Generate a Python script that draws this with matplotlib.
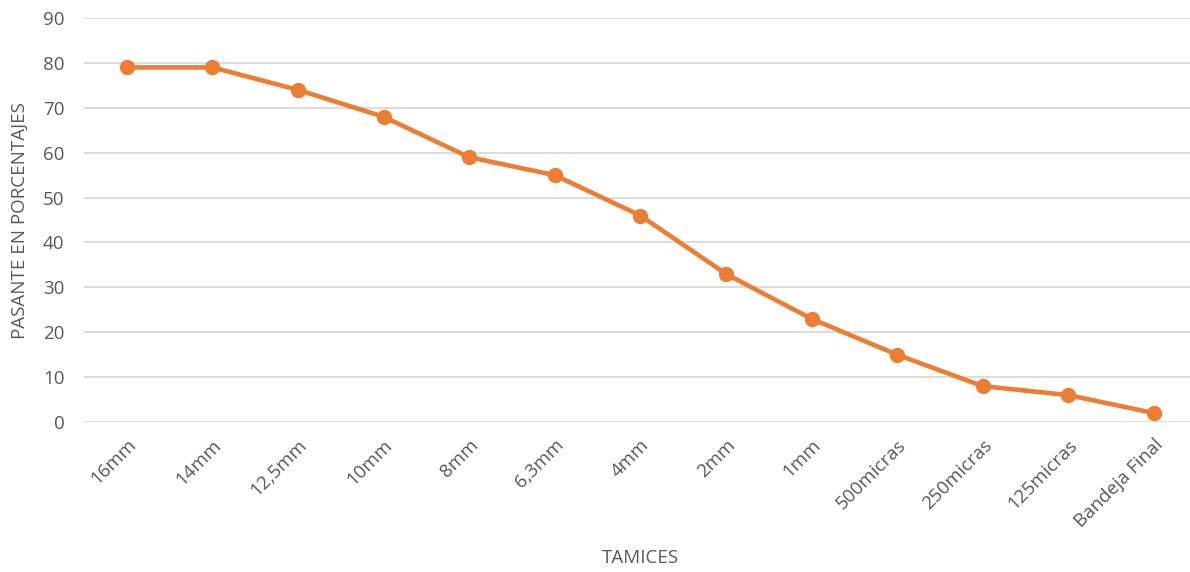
import matplotlib
matplotlib.use('Agg')
import matplotlib.pyplot as plt

tamices = ['16mm', '14mm', '12,5mm', '10mm', '8mm', '6,3mm', '4mm', '2mm',
           '1mm', '500micras', '250micras', '125micras', 'Bandeja Final']
pasante = [79, 79, 74, 68, 59, 55, 46, 33, 23, 15, 8, 6, 2]

plt.rcParams['font.family'] = ['Open Sans', 'DejaVu Sans']
grey = '#595959'
orange = '#ED7D31'

fig = plt.figure(figsize=(11.9, 5.72), dpi=100)
ax = fig.add_axes([0.0706, 0.2622, 0.935, 0.7063])

x = list(range(len(tamices)))
ax.plot(x, pasante, color=orange, lw=3.3, marker='o', markersize=10, zorder=3)

ax.set_xlim(-0.5, len(tamices) - 0.5)
ax.set_ylim(0, 90)
ax.set_yticks(range(0, 91, 10))
ax.grid(axis='y', color='#d9d9d9', lw=1.3)
ax.set_axisbelow(True)
for s in ax.spines.values():
    s.set_visible(False)
ax.tick_params(length=0, colors=grey, labelsize=13.5)
ax.tick_params(axis='y', pad=14)

ax.set_xticks(x)
ax.set_xticklabels(tamices, rotation=45, ha='right', va='top', rotation_mode='anchor')
ax.tick_params(axis='x', pad=10)

fig.text(0.538, 0.008, 'TAMICES', color=grey, fontsize=13.5, ha='center', va='bottom')
fig.text(0.017, 0.614, 'PASANTE EN PORCENTAJES', color=grey, fontsize=13.5,
         rotation=90, ha='center', va='center')

fig.savefig('out.png', dpi=100)
